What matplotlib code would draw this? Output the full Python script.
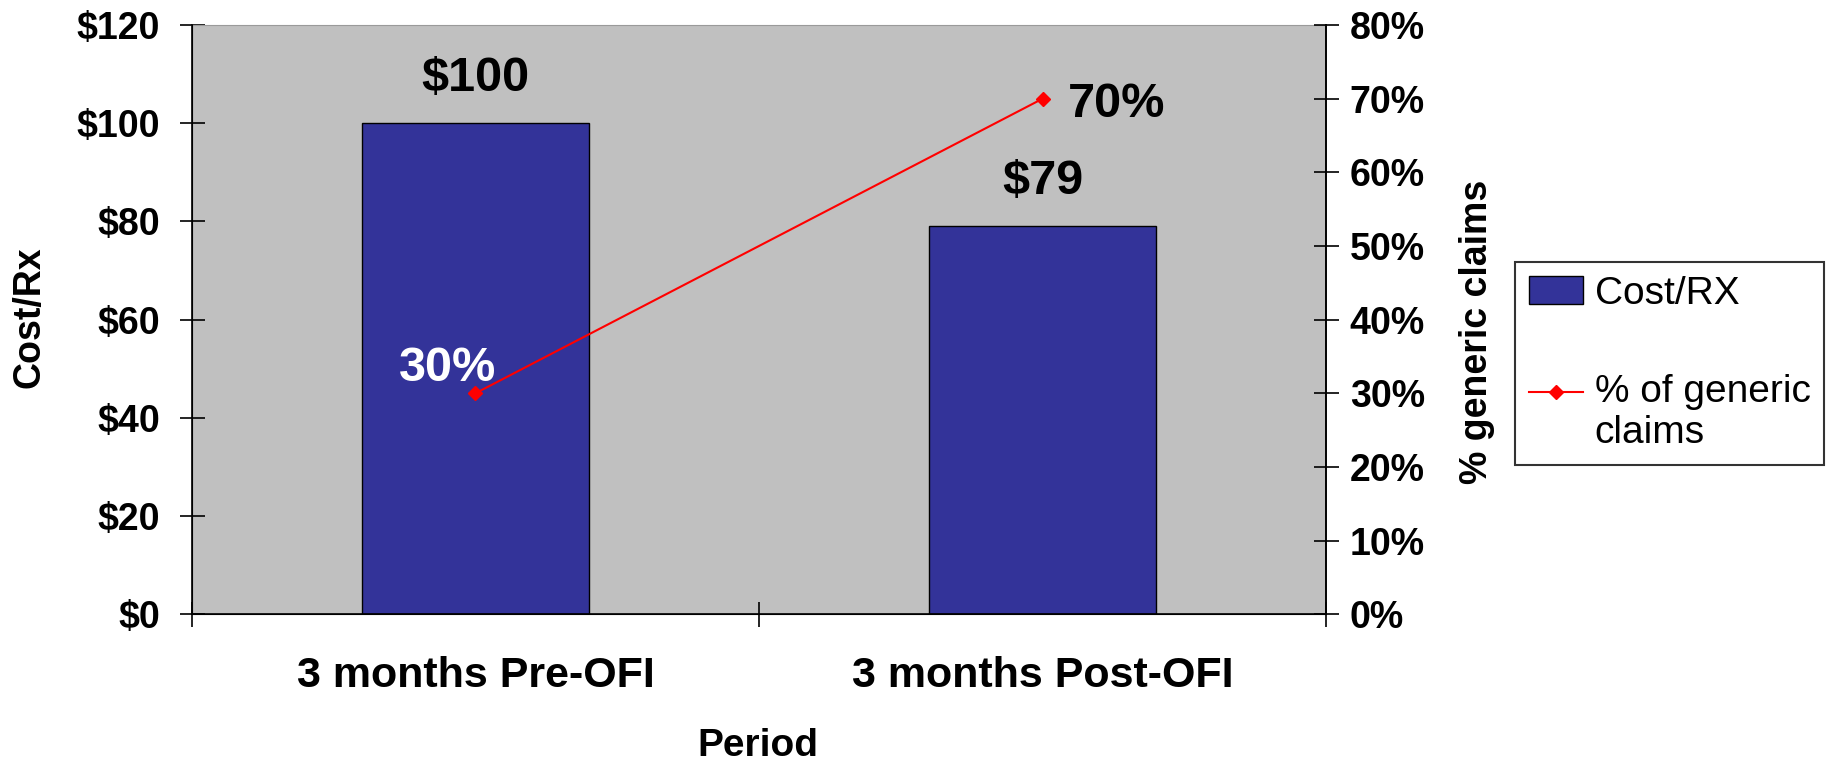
import matplotlib
matplotlib.use("Agg")
import matplotlib.pyplot as plt
from matplotlib.legend_handler import HandlerLine2D
from matplotlib.ticker import FuncFormatter

plt.rcParams["font.family"] = ["Liberation Sans", "DejaVu Sans"]

# ── data ─────────────────────────────────────────────────────────────────────
periods = ["3 months Pre-OFI", "3 months Post-OFI"]
cost_per_rx = [100, 79]
generic_share = [0.30, 0.70]

BAR_COLOUR = "#333399"
LINE_COLOUR = "#FF0000"
PLOT_BG = "#C0C0C0"


class RaisedLineHandler(HandlerLine2D):
    """Line handle that sits level with the first row of a two-line label."""

    def __init__(self, lift, **kw):
        super().__init__(**kw)
        self.lift = lift

    def create_artists(self, legend, orig_handle, xdescent, ydescent,
                       width, height, fontsize, trans):
        return super().create_artists(legend, orig_handle, xdescent,
                                      ydescent - 2 * self.lift, width, height,
                                      fontsize, trans)


fig = plt.figure(figsize=(18.28, 7.61), dpi=100)
ax = fig.add_axes([0.105, 0.193, 0.6204, 0.774])
ax.set_facecolor(PLOT_BG)

x = list(range(len(periods)))
bars = ax.bar(x, cost_per_rx, width=0.40, color=BAR_COLOUR,
              edgecolor="black", linewidth=1.0, label="Cost/RX", zorder=2)
ax.set_xlim(-0.5, len(periods) - 0.5)
ax.set_ylim(0, 120)
ax.set_yticks(range(0, 121, 20))
ax.yaxis.set_major_formatter(FuncFormatter(lambda v, _: f"${v:.0f}"))

# category names sit between the boundary ticks
ax.set_xticks(x)
ax.set_xticklabels(periods, fontsize=31, fontweight="bold")
ax.tick_params(axis="x", which="major", length=0, pad=30)
ax.set_xticks([i - 0.5 for i in range(len(periods) + 1)], minor=True)
ax.tick_params(axis="x", which="minor", direction="inout", length=18, width=1.2)
ax.tick_params(axis="y", direction="inout", length=18, width=1.2,
               labelsize=27, pad=14)
for lab in ax.get_yticklabels():
    lab.set_fontweight("bold")

for side in ("left", "bottom", "right"):
    ax.spines[side].set_linewidth(1.2)
ax.spines["top"].set_color("#9a9a9a")

for xi, v in zip(x, cost_per_rx):
    ax.annotate(f"${v}", (xi, v), xytext=(0, 32), textcoords="offset points",
                ha="center", va="center", fontsize=35, fontweight="bold")

# ── generic share on the secondary axis ─────────────────────────────────────
ax2 = ax.twinx()
line, = ax2.plot(x, generic_share, color=LINE_COLOUR, linewidth=1.5,
                 marker="D", markersize=7, label="% of generic\nclaims", zorder=3)
ax2.set_ylim(0, 0.8)
ax2.set_yticks([i / 10 for i in range(9)])
ax2.yaxis.set_major_formatter(FuncFormatter(lambda v, _: f"{v * 100:.0f}%"))
ax2.tick_params(axis="y", direction="inout", length=18, width=1.2,
                labelsize=27, pad=8)
for lab in ax2.get_yticklabels():
    lab.set_fontweight("bold")
ax2.spines["top"].set_visible(False)
ax2.spines["right"].set_linewidth(1.2)

label_offsets = [(-20, 18), (53, -4)]
label_colours = ["white", "black"]
for xi, v, off, col in zip(x, generic_share, label_offsets, label_colours):
    ax2.annotate(f"{v:.0%}", (xi, v), xytext=off, textcoords="offset points",
                 ha="center", va="center", fontsize=35, fontweight="bold",
                 color=col)

# ── axis titles ─────────────────────────────────────────────────────────────
fig.text(29 / 1828, 1 - 317 / 761, "Cost/Rx", rotation=90, ha="center",
         va="center", fontsize=27, fontweight="bold")
fig.text(758 / 1828, 1 - 746 / 761, "Period", ha="center", va="center",
         fontsize=28, fontweight="bold")
fig.text(1477 / 1828, 1 - 332 / 761, "% generic claims", rotation=90,
         ha="center", va="center", fontsize=27, fontweight="bold")

leg = fig.legend([bars, line], ["Cost/RX", "% of generic\nclaims"],
                 loc="upper left", bbox_to_anchor=(0.8288, 0.6557),
                 fontsize=28, frameon=True, fancybox=False, shadow=False,
                 handlelength=1.4, handletextpad=0.3, borderpad=0.35,
                 labelspacing=1.6, borderaxespad=0,
                 handler_map={line: RaisedLineHandler(lift=15.5)})
leg.get_frame().set_edgecolor("black")
leg.get_frame().set_linewidth(1.5)

fig.savefig("out.png", dpi=100)
